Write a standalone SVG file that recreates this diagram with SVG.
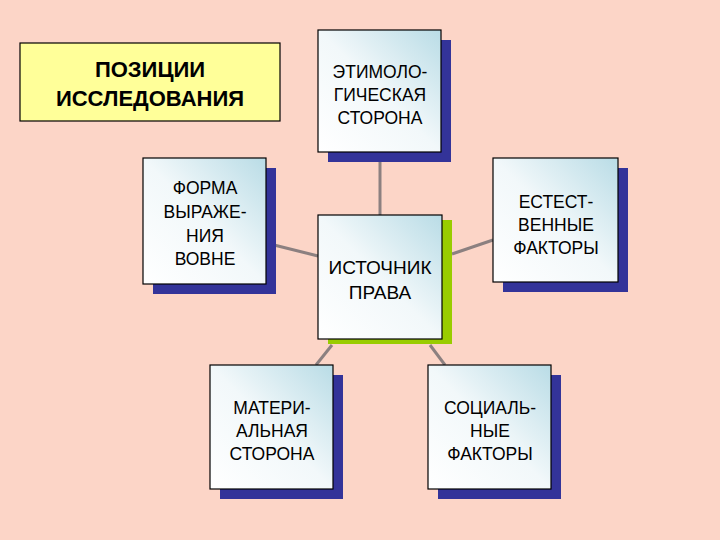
<svg xmlns="http://www.w3.org/2000/svg" width="720" height="540" viewBox="0 0 720 540">
<defs>
<linearGradient id="g" x1="0" y1="1" x2="1" y2="0">
<stop offset="0" stop-color="#ffffff"/><stop offset="0.5" stop-color="#f2f8fa"/><stop offset="1" stop-color="#b9dce6"/>
</linearGradient>
</defs>
<style>
.b{fill:url(#g);stroke:#000;stroke-width:1.2}
.s{fill:#333399}
.sg{fill:#99cc00}
text{font-family:"Liberation Sans",Arial,sans-serif;font-size:17.5px;text-anchor:middle;fill:#000}
.t{font-size:22px;font-weight:bold}
.c line{stroke:#8c8080;stroke-width:3}
</style>
<rect width="720" height="540" fill="#fcd5c7"/>
<g class="c">
<line x1="380" y1="152" x2="380" y2="215"/>
<line x1="266" y1="243" x2="318" y2="256"/>
<line x1="452" y1="254" x2="493" y2="240"/>
<line x1="332" y1="345" x2="316" y2="365"/>
<line x1="430" y1="345" x2="445" y2="365"/>
</g>
<g id="pos"><rect x="20" y="43" width="260" height="78" fill="#ffff99" stroke="#000" stroke-width="1.2"/>
<text class="t" x="150" y="77">ПОЗИЦИИ</text><text class="t" x="150" y="106">ИССЛЕДОВАНИЯ</text></g>
<g id="ety"><rect class="s" x="328" y="40" width="123" height="122"/><rect class="b" x="318" y="30" width="123" height="122"/>
<text x="380" y="78">ЭТИМОЛО-</text><text x="380" y="101">ГИЧЕСКАЯ</text><text x="380" y="124">СТОРОНА</text></g>
<g id="form"><rect class="s" x="153" y="168" width="123" height="126"/><rect class="b" x="143" y="158" width="123" height="126"/>
<text x="205" y="194">ФОРМА</text><text x="205" y="218">ВЫРАЖЕ-</text><text x="205" y="242">НИЯ</text><text x="205" y="265">ВОВНЕ</text></g>
<g id="src"><rect class="sg" x="328" y="220" width="124" height="124"/><rect class="b" x="318" y="215" width="124" height="124"/>
<text x="380" y="274" style="font-size:19px">ИСТОЧНИК</text><text x="380" y="299" style="font-size:19px">ПРАВА</text></g>
<g id="nat"><rect class="s" x="503" y="168" width="125" height="124"/><rect class="b" x="493" y="158" width="125" height="124"/>
<text x="556" y="208">ЕСТЕСТ-</text><text x="556" y="231">ВЕННЫЕ</text><text x="556" y="254">ФАКТОРЫ</text></g>
<g id="mat"><rect class="s" x="220" y="375" width="123" height="124"/><rect class="b" x="210" y="365" width="123" height="124"/>
<text x="272" y="414">МАТЕРИ-</text><text x="272" y="437">АЛЬНАЯ</text><text x="272" y="460">СТОРОНА</text></g>
<g id="soc"><rect class="s" x="438" y="375" width="123" height="124"/><rect class="b" x="428" y="365" width="123" height="124"/>
<text x="490" y="414">СОЦИАЛЬ-</text><text x="490" y="437">НЫЕ</text><text x="490" y="460">ФАКТОРЫ</text></g>
</svg>
